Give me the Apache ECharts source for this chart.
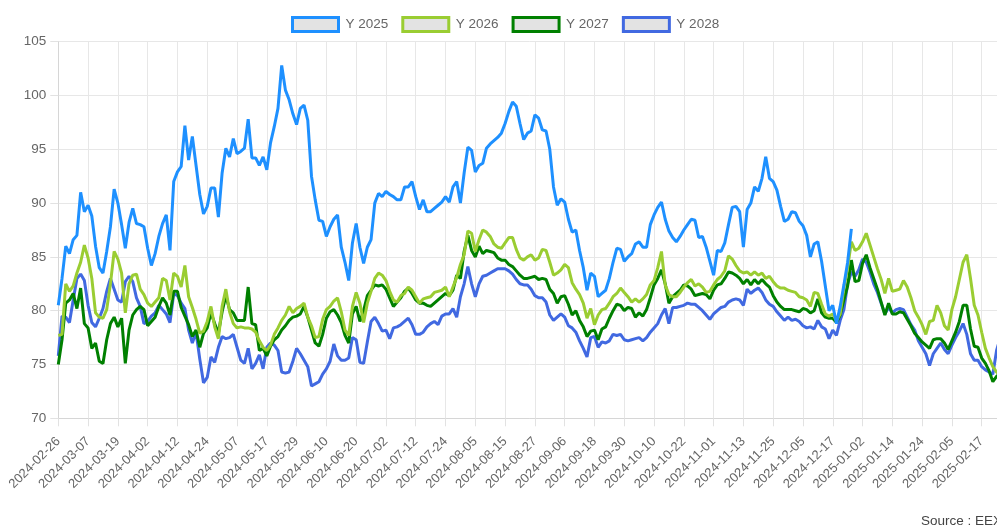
<!DOCTYPE html>
<html>
<head>
<meta charset="utf-8">
<script src="https://cdn.jsdelivr.net/npm/echarts/dist/echarts.min.js"></script>
<style>
html,body{margin:0;padding:0;overflow:hidden;background:#fff;width:997px;height:529px}
#chart{width:1012px;height:529px}
</style>
</head>
<body>
<div id="chart"></div>
<script>
// ---- categories (trading days) ----
const dates = [
'2024-02-26','2024-02-27','2024-02-28','2024-02-29',
'2024-03-01','2024-03-04','2024-03-05','2024-03-06','2024-03-07','2024-03-08','2024-03-11','2024-03-12','2024-03-13','2024-03-14','2024-03-15','2024-03-18','2024-03-19','2024-03-20','2024-03-21','2024-03-22','2024-03-25','2024-03-26','2024-03-27','2024-03-28',
'2024-04-02','2024-04-03','2024-04-04','2024-04-05','2024-04-08','2024-04-09','2024-04-10','2024-04-11','2024-04-12','2024-04-15','2024-04-16','2024-04-17','2024-04-18','2024-04-19','2024-04-22','2024-04-23','2024-04-24','2024-04-25','2024-04-26','2024-04-29','2024-04-30',
'2024-05-02','2024-05-03','2024-05-06','2024-05-07','2024-05-08','2024-05-09','2024-05-10','2024-05-13','2024-05-14','2024-05-15','2024-05-16','2024-05-17','2024-05-20','2024-05-21','2024-05-22','2024-05-23','2024-05-24','2024-05-27','2024-05-28','2024-05-29','2024-05-30','2024-05-31',
'2024-06-03','2024-06-04','2024-06-05','2024-06-06','2024-06-07','2024-06-10','2024-06-11','2024-06-12','2024-06-13','2024-06-14','2024-06-17','2024-06-18','2024-06-19','2024-06-20','2024-06-21','2024-06-24','2024-06-25','2024-06-26','2024-06-27','2024-06-28',
'2024-07-01','2024-07-02','2024-07-03','2024-07-04','2024-07-05','2024-07-08','2024-07-09','2024-07-10','2024-07-11','2024-07-12','2024-07-15','2024-07-16','2024-07-17','2024-07-18','2024-07-19','2024-07-22','2024-07-23','2024-07-24','2024-07-25','2024-07-26','2024-07-29','2024-07-30','2024-07-31',
'2024-08-01','2024-08-02','2024-08-05','2024-08-06','2024-08-07','2024-08-08','2024-08-09','2024-08-12','2024-08-13','2024-08-14','2024-08-15','2024-08-16','2024-08-19','2024-08-20','2024-08-21','2024-08-22','2024-08-23','2024-08-26','2024-08-27','2024-08-28','2024-08-29','2024-08-30',
'2024-09-02','2024-09-03','2024-09-04','2024-09-05','2024-09-06','2024-09-09','2024-09-10','2024-09-11','2024-09-12','2024-09-13','2024-09-16','2024-09-17','2024-09-18','2024-09-19','2024-09-20','2024-09-23','2024-09-24','2024-09-25','2024-09-26','2024-09-27','2024-09-30',
'2024-10-01','2024-10-02','2024-10-03','2024-10-04','2024-10-07','2024-10-08','2024-10-09','2024-10-10','2024-10-11','2024-10-14','2024-10-15','2024-10-16','2024-10-17','2024-10-18','2024-10-21','2024-10-22','2024-10-23','2024-10-24','2024-10-25','2024-10-28','2024-10-29','2024-10-30','2024-10-31',
'2024-11-01','2024-11-04','2024-11-05','2024-11-06','2024-11-07','2024-11-08','2024-11-11','2024-11-12','2024-11-13','2024-11-14','2024-11-15','2024-11-18','2024-11-19','2024-11-20','2024-11-21','2024-11-22','2024-11-25','2024-11-26','2024-11-27','2024-11-28','2024-11-29',
'2024-12-02','2024-12-03','2024-12-04','2024-12-05','2024-12-06','2024-12-09','2024-12-10','2024-12-11','2024-12-12','2024-12-13','2024-12-16','2024-12-17','2024-12-18','2024-12-19','2024-12-20','2024-12-23','2024-12-27','2024-12-30','2024-12-31',
'2025-01-02','2025-01-03','2025-01-06','2025-01-07','2025-01-08','2025-01-09','2025-01-10','2025-01-13','2025-01-14','2025-01-15','2025-01-16','2025-01-17','2025-01-20','2025-01-21','2025-01-22','2025-01-23','2025-01-24','2025-01-27','2025-01-28','2025-01-29','2025-01-30','2025-01-31',
'2025-02-03','2025-02-04','2025-02-05','2025-02-06','2025-02-07','2025-02-10','2025-02-11','2025-02-12','2025-02-13','2025-02-14','2025-02-17','2025-02-18','2025-02-19','2025-02-20','2025-02-21','2025-02-24'
];

// ---- series names ----
const seriesNames = ['Y 2025', 'Y 2026', 'Y 2027', 'Y 2028'];

// ---- series values ----
const y2025 = [
80.5,83.0,86.0,85.3,86.6,87.0,91.0,89.2,89.8,88.8,
86.0,84.0,83.5,85.5,87.8,91.3,90.0,88.0,85.8,88.2,
89.5,88.1,88.0,87.8,85.8,84.2,85.3,86.9,88.1,88.9,
85.6,92.0,92.9,93.4,97.2,94.0,96.2,93.5,90.8,89.0,
89.7,91.4,91.4,88.7,92.8,95.1,94.3,96.0,94.6,94.8,
95.1,97.8,94.2,94.2,93.5,94.3,93.1,95.6,97.1,98.8,
102.8,100.5,99.6,98.3,97.3,98.8,99.1,97.7,92.5,90.3,
88.4,88.3,86.9,87.8,88.5,88.9,85.9,84.5,82.8,86.3,
88.1,85.9,84.4,85.9,86.6,90.0,90.9,90.6,91.1,90.8,
90.6,90.3,90.3,91.5,91.5,92.0,90.6,89.4,90.3,89.2,
89.2,89.5,89.8,90.1,90.6,90.1,91.5,92.0,90.0,92.8,
95.2,94.9,92.9,93.5,93.7,95.1,95.5,95.8,96.1,96.5,
97.4,98.5,99.4,99.0,97.4,95.9,96.5,96.7,98.2,97.9,
96.8,96.7,95.0,91.5,89.8,90.4,90.1,88.5,87.3,87.5,
85.6,84.0,81.9,83.5,83.2,81.3,81.6,81.9,83.0,84.5,
85.8,85.7,84.6,85.0,85.3,86.2,86.4,85.9,85.9,88.0,
88.9,89.6,90.1,88.5,87.4,86.8,86.4,86.9,87.5,88.0,
88.5,88.4,86.8,86.9,85.9,84.6,83.3,85.6,85.5,86.3,
88.0,89.6,89.7,89.2,85.9,89.4,90.0,91.5,91.1,92.3,
94.3,92.3,92.0,91.2,89.7,88.3,88.5,89.2,89.1,88.3,
87.9,87.0,85.0,86.2,86.4,84.6,82.3,80.0,80.5,78.8,
80.4,82.4,84.5,87.6
];
const y2026 = [
77.7,77.8,82.5,81.8,82.3,83.5,84.5,86.1,84.9,83.0,
79.8,79.4,79.3,80.1,82.5,85.5,84.8,83.5,79.8,82.5,
83.3,83.4,82.0,81.5,80.7,80.4,80.8,81.2,83.0,82.8,
81.0,83.5,83.2,82.2,84.2,81.3,80.3,79.2,77.9,78.1,
79.0,80.4,78.5,77.4,80.4,82.0,79.9,78.8,78.4,78.5,
78.4,78.4,78.3,78.0,77.2,76.6,76.3,76.8,77.8,78.4,
79.1,79.6,80.4,79.8,80.2,80.4,80.7,79.4,78.6,77.5,
77.6,79.2,80.1,80.4,80.9,81.2,79.9,78.2,77.7,80.4,
81.7,80.7,78.9,80.7,81.8,83.0,83.5,83.3,82.8,81.8,
81.0,80.8,81.4,81.6,82.2,81.9,81.3,80.7,81.1,81.2,
81.3,81.7,81.8,81.9,82.2,81.3,82.2,83.1,84.3,85.2,
87.4,87.2,85.5,86.6,87.5,87.3,86.9,86.2,85.9,85.8,
86.3,86.8,86.8,85.7,84.9,84.7,85.0,85.2,84.7,84.9,
85.7,85.6,84.5,83.3,83.5,83.8,84.3,84.0,82.6,82.0,
81.5,80.7,79.3,80.2,78.7,79.6,80.1,80.2,80.7,81.3,
81.6,82.1,81.7,81.3,80.8,81.1,80.8,81.1,81.5,82.4,
82.8,84.0,85.5,82.4,81.5,81.3,81.3,81.7,82.2,82.6,
82.9,82.3,82.5,82.2,81.7,81.8,82.4,82.9,83.2,83.7,
85.1,84.8,84.2,83.7,83.5,83.6,83.3,83.6,83.3,83.5,
83.0,83.2,82.7,82.3,82.1,82.1,81.9,81.8,81.7,81.3,
81.2,81.0,80.4,81.7,81.6,80.6,79.7,79.5,79.7,79.1,
79.7,82.1,84.0,86.4,85.6,85.8,86.4,87.2,86.1,85.0,
83.9,82.9,81.6,83.0,81.8,81.9,82.0,82.8,82.2,81.2,
80.0,79.4,78.7,77.8,79.0,79.1,80.5,79.8,78.6,78.2,
80.1,81.3,82.9,84.5,85.2,83.0,80.5,79.6,78.0,76.5,
75.6,74.8,74.3,74.0
];
const y2027 = [
75.0,77.3,80.7,81.0,81.6,80.2,82.1,78.8,78.4,76.5,
77.0,75.3,75.1,77.3,78.8,79.4,78.5,79.3,75.1,78.2,
79.6,80.1,80.4,80.1,78.6,79.0,79.4,80.4,81.2,80.7,
79.6,81.8,81.8,80.3,79.5,78.7,77.6,78.2,76.6,77.9,
78.4,79.8,78.8,77.9,79.9,81.4,80.1,79.8,79.1,79.1,
79.1,82.2,78.8,78.7,76.3,76.5,75.8,76.7,77.3,77.6,
78.2,78.6,79.1,79.4,79.5,79.7,80.4,79.4,78.2,77.0,
76.7,77.8,79.3,79.9,80.1,79.6,78.9,77.7,77.0,79.7,
80.4,79.0,80.0,81.4,81.9,82.4,82.3,82.4,82.0,81.2,
80.4,80.8,81.2,81.8,82.1,81.6,81.0,80.7,80.7,80.5,
80.4,80.7,81.0,81.3,81.6,81.4,81.9,83.3,83.0,85.5,
87.0,85.6,85.0,86.0,85.3,85.6,85.5,85.4,84.9,84.7,
84.7,84.3,84.1,83.7,83.3,83.0,83.0,83.1,83.2,82.9,
83.0,82.9,82.0,81.6,80.7,81.3,81.4,80.6,79.6,80.0,
79.1,78.5,77.6,78.1,78.2,77.3,78.3,78.5,79.3,80.0,
80.6,80.5,80.0,80.3,80.2,79.4,79.8,79.5,80.1,81.2,
82.4,83.0,83.8,82.5,80.7,81.3,81.6,81.9,82.4,82.3,
82.0,81.4,81.5,81.6,81.5,81.1,81.9,82.4,82.5,83.0,
83.6,83.5,83.3,83.0,82.5,82.9,82.4,82.9,82.5,82.9,
82.5,82.2,81.4,80.8,80.4,80.1,80.1,80.1,80.0,79.9,
80.2,80.1,79.8,80.0,81.1,79.8,79.4,79.3,79.3,78.9,
79.6,81.0,82.3,84.7,82.7,82.8,84.4,85.2,84.0,83.0,
82.0,80.8,79.6,80.7,79.7,79.7,79.9,79.8,79.2,78.6,
77.9,77.5,77.1,76.8,76.5,77.3,77.4,77.4,77.0,76.4,
77.2,78.0,79.0,80.5,80.5,78.3,76.7,76.6,75.6,75.1,
74.4,73.4,73.9,74.2
];
const y2028 = [
75.8,79.5,79.4,78.9,81.0,83.0,83.4,82.8,80.5,78.9,
78.5,79.3,80.2,81.8,83.0,82.0,81.0,80.8,82.7,83.2,
82.7,81.2,80.4,78.8,79.0,79.5,79.8,80.5,80.1,79.7,
78.9,81.6,81.4,80.7,80.2,78.2,77.0,78.0,75.5,73.3,
73.8,75.7,75.2,76.6,77.6,77.4,77.5,77.8,76.6,75.4,
75.1,76.5,74.6,75.1,75.9,74.6,76.6,77.0,76.8,76.3,
74.3,74.2,74.3,75.3,76.5,76.0,75.4,74.8,73.0,73.2,
73.4,74.1,74.6,75.3,76.9,75.8,75.4,75.4,75.6,77.5,
77.3,75.2,75.1,77.1,79.0,79.4,78.8,78.1,78.2,77.4,
78.4,78.5,78.7,79.0,79.3,78.7,77.8,77.8,78.0,78.5,
78.8,79.0,78.7,79.5,79.7,79.7,80.2,79.4,81.3,82.5,
84.1,82.5,81.3,82.5,83.2,83.3,83.5,83.7,83.9,83.9,
83.9,83.7,83.4,82.9,82.5,82.4,82.4,82.0,81.4,81.2,
81.2,80.8,79.6,79.1,79.4,79.7,79.4,78.6,78.4,78.0,
77.2,76.5,75.7,77.5,77.6,76.6,77.1,77.0,77.2,77.8,
77.7,77.8,77.3,77.2,77.3,77.4,77.5,77.2,77.5,78.0,
78.4,78.8,79.6,80.2,78.8,80.3,80.3,80.4,80.5,80.7,
80.6,80.6,80.3,80.0,79.6,79.2,79.7,80.0,80.3,80.4,
80.8,81.0,81.1,81.0,80.5,82.0,81.6,81.9,82.1,81.7,
81.0,80.6,80.4,79.9,79.5,79.1,79.4,79.1,79.2,79.0,
78.6,78.4,78.5,78.3,79.1,78.5,78.3,77.4,78.2,77.7,
79.1,80.1,82.5,83.6,83.2,83.8,84.8,84.5,83.6,82.5,
81.7,80.7,79.7,80.3,79.8,80.1,80.2,80.1,79.4,78.7,
78.2,77.2,76.6,76.0,74.9,76.0,76.5,77.0,76.4,76.0,
76.8,77.5,78.1,78.8,77.8,76.0,75.4,75.4,74.8,74.5,
74.3,74.1,76.3,77.5
];

// ---- y axis ticks ----
const yMin = 70, yMax = 105, yStep = 5;
const sourceText = 'Source : EEX';

const seriesValues = [y2025, y2026, y2027, y2028];
const colors = ['#1E90FF', '#9ACD32', '#008000', '#4169E1'];
const font = '"Liberation Sans", Arial, Helvetica, sans-serif';

const chart = echarts.init(document.getElementById('chart'), null, {renderer: 'canvas'});
chart.setOption({
  animation: false,
  backgroundColor: '#ffffff',
  textStyle: {fontFamily: font},
  legend: {
    top: 11,
    left: 286,
    icon: 'rect',
    itemWidth: 46,
    itemHeight: 14,
    itemGap: 13,
    textStyle: {color: '#666', fontSize: 13.5, fontFamily: font, padding: [0, 0, 0, 2]},
    data: seriesNames.map((n, i) => ({
      name: n,
      icon: 'rect',
      itemStyle: {color: '#e3e3e3', borderColor: colors[i], borderWidth: 3}
    }))
  },
  grid: {left: 58.3, right: 11.7, top: 41.7, bottom: 110.7, containLabel: false},
  xAxis: {
    type: 'category',
    data: dates,
    boundaryGap: false,
    axisLine: {lineStyle: {color: '#d6d6d6'}},
    axisTick: {show: true, interval: 7, length: 8, lineStyle: {color: '#e2e2e2'}},
    axisLabel: {interval: 7, rotate: 45, color: '#666', fontSize: 13, margin: 21, fontFamily: font},
    splitLine: {show: true, interval: 7, lineStyle: {color: '#e7e7e7'}}
  },
  yAxis: {
    type: 'value',
    min: yMin, max: yMax, interval: yStep,
    axisLine: {show: true, lineStyle: {color: '#d6d6d6'}},
    axisTick: {show: true, length: 8, lineStyle: {color: '#e2e2e2'}},
    axisLabel: {color: '#666', fontSize: 13.5, margin: 12, fontFamily: font},
    splitLine: {show: true, lineStyle: {color: '#e7e7e7'}}
  },
  series: seriesNames.map((n, i) => ({
    name: n,
    type: 'line',
    data: seriesValues[i],
    showSymbol: false,
    symbol: 'none',
    z: 10 - i,
    color: colors[i],
    lineStyle: {width: 3, color: colors[i]},
    itemStyle: {color: colors[i]}
  })),
  graphic: [{
    type: 'text',
    left: 921,
    top: 514,
    style: {text: sourceText, fill: '#444', fontSize: 13.5, fontFamily: font}
  }]
});
</script>
</body>
</html>
